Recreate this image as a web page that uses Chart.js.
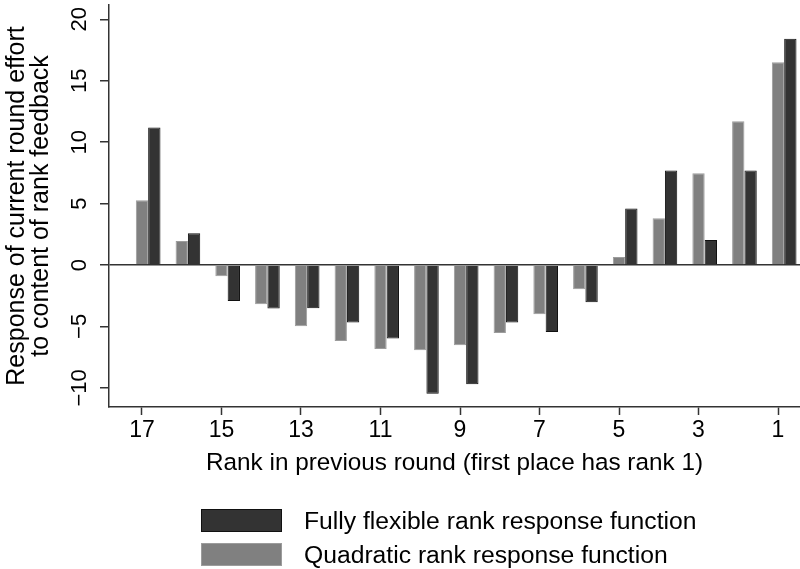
<!DOCTYPE html>
<html>
<head>
<meta charset="utf-8">
<script src="https://cdn.jsdelivr.net/npm/chart.js@4.4.1/dist/chart.umd.min.js"></script>
<style>
  html, body { margin: 0; padding: 0; background: #fff; }
  #wrap { position: relative; width: 800px; height: 569px; overflow: hidden;
          font-family: "Liberation Sans", Arial, Helvetica, sans-serif; }
  #chart { position: absolute; left: 0; top: 0; }
  #legend { position: absolute; left: 201px; top: 509px; }
  .row { display: flex; align-items: flex-start; height: 33.5px; }
  .swatch { width: 79px; height: 21px; box-sizing: content-box; }
  .label { margin-left: 22px; margin-top: 1px; font-size: 24.7px; line-height: 22px; color: #000; white-space: nowrap; }
</style>
</head>
<body>
<div id="wrap">
  <canvas id="chart" width="800" height="569"></canvas>
  <div id="legend"></div>
</div>
<script>
// Previous-round rank (first place = 1), shown from last place to first
const ranks = [17, 16, 15, 14, 13, 12, 11, 10, 9, 8, 7, 6, 5, 4, 3, 2, 1];
const rankTicks = [17, 15, 13, 11, 9, 7, 5, 3, 1];
const yTicks = [-10, -5, 0, 5, 10, 15, 20];

// Estimated response of current-round effort for each rank
const quadratic = [5.28, 1.95, -0.92, -3.2, -4.98, -6.18, -6.83, -6.94, -6.53, -5.53, -4.01, -1.98, 0.65, 3.8, 7.48, 11.7, 16.5];
const flexible  = [11.2, 2.58, -2.93, -3.55, -3.52, -4.69, -5.99, -10.49, -9.7, -4.69, -5.45, -3.03, 4.61, 7.7, 2.03, 7.7, 18.43];

const seriesLabels = ['Fully flexible rank response function', 'Quadratic rank response function'];

// Axis extents (in data units)
const xRange = { min: 0.447, max: 17.83 };
const yRange = { min: -11.56, max: 21.17 };
// Each bar is this fraction of one rank step; the flexible bars sit one bar-width to the right
const barFrac = 0.31;

const FONT = '"Liberation Sans", Arial, Helvetica, sans-serif';
const INK = '#000';
const AXIS = '#333';

const colors = {
  flexible:  { fill: '#333333', border: '#111111' },
  quadratic: { fill: '#808080', border: '#9c9c9c' }
};

const toPoints = vals => ranks.map((r, i) => ({ x: r, y: vals[i] }));
const minusSign = v => String(v).replace('-', '\u2212');

new Chart(document.getElementById('chart'), {
  type: 'bar',
  data: {
    datasets: [
      {
        label: seriesLabels[1],
        data: toPoints(quadratic),
        xAxisID: 'x',
        backgroundColor: colors.quadratic.fill,
        borderColor: colors.quadratic.border,
        borderWidth: 1,
        grouped: false,
        barPercentage: barFrac,
        categoryPercentage: 1
      },
      {
        label: seriesLabels[0],
        data: toPoints(flexible),
        xAxisID: 'xShift',
        backgroundColor: colors.flexible.fill,
        borderColor: colors.flexible.border,
        borderWidth: 1,
        grouped: false,
        barPercentage: barFrac,
        categoryPercentage: 1
      }
    ]
  },
  options: {
    responsive: false,
    animation: false,
    devicePixelRatio: 1,
    layout: { padding: { top: 5, right: 0, bottom: 89, left: 0 } },
    plugins: {
      legend: { display: false },
      tooltip: { enabled: false }
    },
    scales: {
      x: {
        type: 'linear',
        position: 'bottom',
        reverse: true,
        offset: false,
        min: xRange.min,
        max: xRange.max,
        afterBuildTicks: s => { s.ticks = rankTicks.map(v => ({ value: v })); },
        afterFit: s => { s.height = 73; s.paddingLeft = 0; s.paddingRight = 0; },
        border: { display: true, color: AXIS, width: 1.5 },
        grid: { offset: false, drawOnChartArea: false, drawTicks: true, tickLength: 8, tickColor: AXIS, tickWidth: 1.5 },
        ticks: { color: INK, font: { family: FONT, size: 23 }, padding: 1.5, autoSkip: false, maxRotation: 0 },
        title: {
          display: true,
          text: 'Rank in previous round (first place has rank 1)',
          color: INK,
          font: { family: FONT, size: 24.3 },
          padding: { top: 0, bottom: 2 }
        }
      },
      xShift: {
        type: 'linear',
        display: false,
        reverse: true,
        offset: false,
        grid: { offset: false },
        min: xRange.min + barFrac,
        max: xRange.max + barFrac
      },
      y: {
        type: 'linear',
        position: 'left',
        min: yRange.min,
        max: yRange.max,
        afterBuildTicks: s => { s.ticks = yTicks.map(v => ({ value: v })); },
        afterFit: s => { s.width = 109; s.paddingTop = 0; s.paddingBottom = 0; },
        border: { display: true, color: AXIS, width: 1.5 },
        grid: {
          drawTicks: true,
          tickLength: 9,
          tickColor: AXIS,
          tickWidth: 1.5,
          lineWidth: 1.5,
          color: c => (c.tick && c.tick.value === 0 ? AXIS : 'rgba(0,0,0,0)')
        },
        ticks: {
          color: INK,
          font: { family: FONT, size: 22 },
          minRotation: 90,
          maxRotation: 90,
          crossAlign: 'center',
          padding: 1,
          callback: v => minusSign(v)
        },
        title: {
          display: true,
          text: ['Response of current round effort', 'to content of rank feedback'],
          color: INK,
          font: { family: FONT, size: 25, lineHeight: 0.95 },
          padding: { top: 5.4, bottom: 0 }
        }
      }
    }
  }
});

// Legend: flexible series first, then quadratic
const legend = document.getElementById('legend');
[[seriesLabels[0], colors.flexible], [seriesLabels[1], colors.quadratic]].forEach(([text, c]) => {
  const row = document.createElement('div');
  row.className = 'row';
  const sw = document.createElement('div');
  sw.className = 'swatch';
  sw.style.background = c.fill;
  sw.style.border = '1px solid ' + c.border;
  const lab = document.createElement('div');
  lab.className = 'label';
  lab.textContent = text;
  row.appendChild(sw);
  row.appendChild(lab);
  legend.appendChild(row);
});
</script>
</body>
</html>
